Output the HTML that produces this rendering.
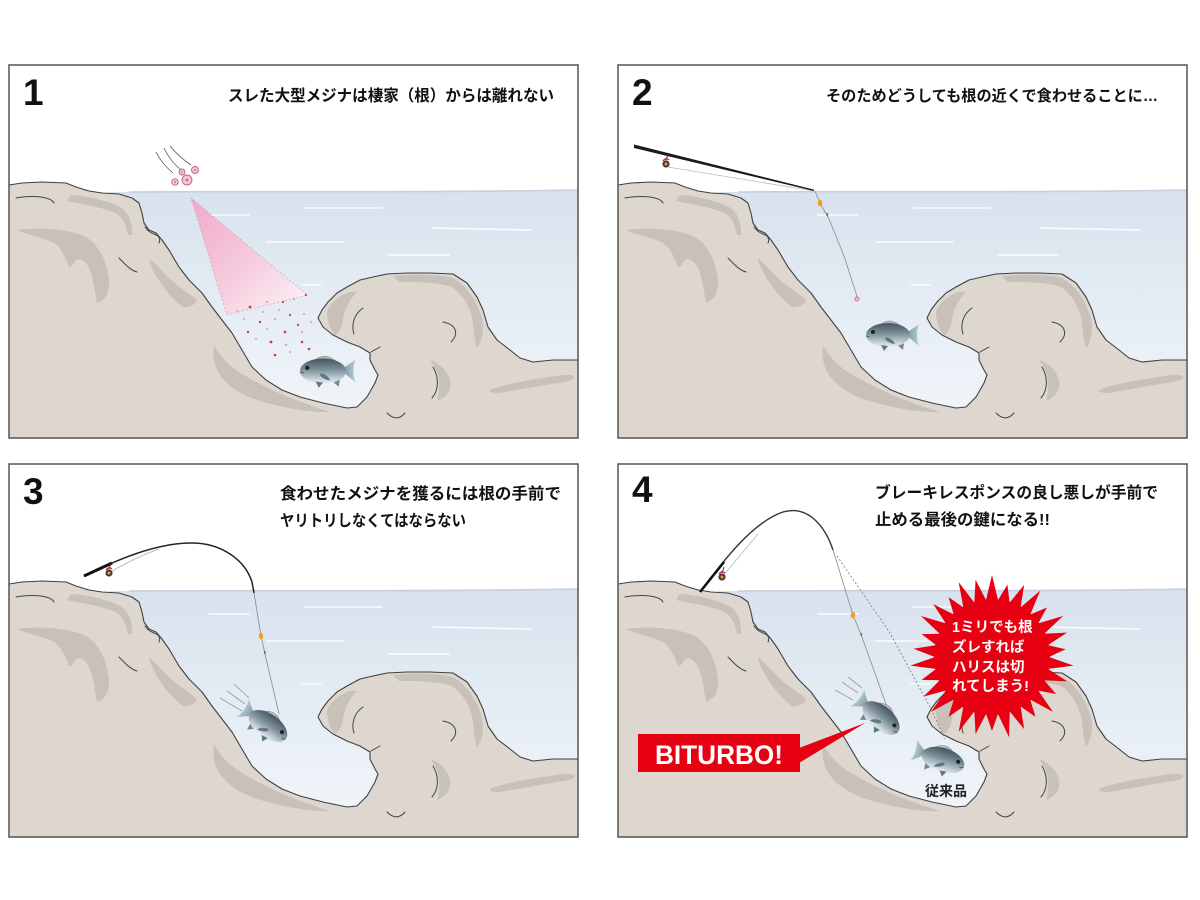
<!DOCTYPE html>
<html><head><meta charset="utf-8">
<style>
html,body{margin:0;padding:0;background:#fff;width:1200px;height:900px;overflow:hidden}
svg{display:block}
</style></head>
<body>
<svg width="1200" height="900" viewBox="0 0 1200 900" xmlns="http://www.w3.org/2000/svg">
<defs>
  <linearGradient id="waterG" x1="0" y1="125" x2="0" y2="373" gradientUnits="userSpaceOnUse">
    <stop offset="0" stop-color="#d8e2ed"/>
    <stop offset="1" stop-color="#f3f7fb"/>
  </linearGradient>
  <linearGradient id="fishG" x1="0" y1="-12" x2="0" y2="12" gradientUnits="userSpaceOnUse">
    <stop offset="0" stop-color="#46545d"/>
    <stop offset="0.45" stop-color="#7d919b"/>
    <stop offset="1" stop-color="#eef2f3"/>
  </linearGradient>
  <linearGradient id="finG" x1="17" y1="0" x2="31" y2="0" gradientUnits="userSpaceOnUse">
    <stop offset="0" stop-color="#6f8d99"/>
    <stop offset="1" stop-color="#b9ced5"/>
  </linearGradient>
  <linearGradient id="coneG" x1="182" y1="133" x2="290" y2="245" gradientUnits="userSpaceOnUse">
    <stop offset="0" stop-color="#f0a9c8"/>
    <stop offset="0.55" stop-color="#f5cbdd"/>
    <stop offset="1" stop-color="#fcf0f5"/>
  </linearGradient>
  <clipPath id="pc"><rect x="0" y="0" width="569" height="373"/></clipPath>

  <g id="land">
    <path d="M100,127 C250,126 400,128 569,125 L569,373 L100,373 Z" fill="url(#waterG)"/>
    <path d="M120,127 C250,126 400,128 569,125" fill="none" stroke="#c5d0dc" stroke-width="1.6"/>
    <g stroke="#ffffff" stroke-width="1.6" stroke-linecap="round" opacity="0.85">
      <path d="M295,143 L373,143"/>
      <path d="M423,163 L522,165"/>
      <path d="M258,177 L335,177"/>
      <path d="M200,150 L240,150"/>
      <path d="M293,220 L312,220"/>
      <path d="M380,190 L440,190"/>
    </g>
    <path fill="#ddd7d0" d="M0,120 L13,118 L33,117 L57,118 L67,122 L80,126 L93,128 L110,129 L123,133 L130,138 L133,148 L135,158 L140,165 L147,168 L153,175 L160,185 L170,202 L180,215 L193,228 L203,242 L213,255 L223,268 L233,285 L243,302 L257,315 L273,325 L291,332 L314,338 L338,343 L348,342 L358,332 L366,318 L369,310 L366,305 L361,295 L361,288 L351,282 L338,277 L324,270 L314,262 L309,253 L313,245 L319,237 L328,228 L338,222 L351,215 L364,212 L378,209 L398,208 L421,208 L444,209 L458,218 L468,232 L474,245 L479,262 L488,275 L501,285 L511,293 L524,297 L544,295 L569,295 L569,373 L0,373 Z"/>
    <g fill="#c8c1ba">
      <path d="M62,130 C80,131 100,136 113,143 C120,148 124,160 123,170 L119,170 C117,158 112,150 104,147 C88,141 72,139 58,136 Z"/>
      <path d="M8,165 C30,162 60,164 77,172 C90,180 98,196 100,215 C101,226 97,235 88,238 C86,228 85,214 80,203 C76,195 70,192 66,196 C64,200 62,203 60,202 C57,194 52,182 45,178 C33,172 18,170 8,165 Z"/>
      <path d="M140,193 C148,200 155,208 162,215 C170,222 180,228 188,235 C186,240 180,243 174,242 C165,236 156,225 149,214 C145,207 141,200 140,193 Z"/>
      <path d="M205,280 C210,290 220,302 235,310 C255,322 285,336 322,347 C300,348 270,342 245,334 C225,326 212,316 207,302 C204,294 204,287 205,280 Z"/>
      <path d="M384,211 C400,209 430,209 444,213 C456,220 466,232 472,250 C476,262 474,275 468,283 C465,275 465,262 463,252 C459,238 452,228 443,222 C428,217 405,217 390,217 Z"/>
      <path d="M318,247 C320,240 328,232 340,227 L348,227 C342,233 335,244 334,255 C333,262 330,268 326,270 C321,265 318,255 318,247 Z"/>
      <path d="M421,295 C430,298 438,305 441,315 C443,325 437,333 428,336 C430,328 431,318 429,310 C427,303 424,299 421,295 Z"/>
      <path d="M481,325 C495,319 520,315 540,312 C552,310 560,309 565,311 C566,314 563,316 555,317 C535,320 510,325 490,328 C484,328 480,327 481,325 Z"/>
    </g>
    <path fill="none" stroke="#404040" stroke-width="1.1" stroke-linejoin="round" d="M0,120 L13,118 L33,117 L57,118 L67,122 L80,126 L93,128 L110,129 L123,133 L130,138 L133,148 L135,158 L140,165 L147,168 L153,175 L160,185 L170,202 L180,215 L193,228 L203,242 L213,255 L223,268 L233,285 L243,302 L257,315 L273,325 L291,332 L314,338 L338,343 L348,342 L358,332 L366,318 L369,310 L366,305 L361,295 L361,288 L351,282 L338,277 L324,270 L314,262 L309,253 L313,245 L319,237 L328,228 L338,222 L351,215 L364,212 L378,209 L398,208 L421,208 L444,209 L458,218 L468,232 L474,245 L479,262 L488,275 L501,285 L511,293 L524,297 L544,295 L569,295"/>
    <g fill="none" stroke="#444" stroke-width="1" stroke-linecap="round">
      <path d="M7,133 C17,131 30,131 37,133 C41,134 44,136 45,138"/>
      <path d="M110,193 C116,199 121,205 128,207"/>
      <path d="M136,162 C140,168 144,168 149,171 C151,173 151,176 150,178"/>
      <path d="M354,243 C345,249 342,260 345,269"/>
      <path d="M434,257 C446,259 451,268 442,277"/>
      <path d="M424,302 C430,312 430,325 423,333"/>
      <path d="M378,348 C384,354 390,355 396,348"/>
      <path d="M362,287 L371,282"/>
    </g>
  </g>

  <g id="fish">
    <path d="M17,-1 L31,-11 Q27,0 31,11 Z" fill="url(#finG)"/>
    <path d="M-8,-10 Q2,-19 14,-8 Z" fill="#b5c0c5" stroke="#6a7a82" stroke-width="0.5"/>
    <path d="M8,9 L15,15 L16,8 Z" fill="#6f8a95"/>
    <ellipse cx="0" cy="0" rx="22" ry="12" fill="url(#fishG)"/>
    <path d="M-2,2 Q5,4 7,9 Q0,8 -3,4 Z" fill="#5a7a88"/>
    <path d="M-7,10 L-4,16 L0,11 Z" fill="#5a7a88"/>
    <circle cx="-15" cy="-3" r="2" fill="#1a2328"/>
    <path d="M-22,1 L-18,2" stroke="#333" stroke-width="0.6"/>
  </g>

  <g id="reel">
    <path d="M0,-4 L2,-10" stroke="#333" stroke-width="1"/>
    <circle r="3.6" fill="#4a3838"/>
    <path d="M-3,-3 Q0,-7 3,-4" stroke="#d02030" fill="none" stroke-width="1.3"/>
    <circle r="1.5" fill="#e0a030"/>
  </g>

  <polygon id="spA" points="-6.2,-56 0,-82 6.2,-56" fill="#e60012"/>
  <polygon id="spB" points="-6.2,-56 0,-74 6.2,-56" fill="#e60012"/>
  <polygon id="spC" points="-6.2,-56 0,-79 6.2,-56" fill="#e60012"/>
</defs>

<rect width="1200" height="900" fill="#fff"/>

<!-- PANEL 1 -->
<g transform="translate(9,65)">
  <g clip-path="url(#pc)">
    <rect width="569" height="373" fill="#fff"/>
    <use href="#land"/>
    <polygon points="182,133 298,230 218,250" fill="url(#coneG)" stroke="#d591b0" stroke-width="0.6" stroke-dasharray="2 2"/>
    <g fill="#c8404e">
      <circle cx="241" cy="242" r="1.4"/><circle cx="274" cy="237" r="1.1"/><circle cx="297" cy="230" r="1.1"/>
      <circle cx="251" cy="257" r="1.2"/><circle cx="281" cy="250" r="1.1"/><circle cx="239" cy="267" r="1.2"/>
      <circle cx="276" cy="267" r="1.4"/><circle cx="262" cy="277" r="1.4"/><circle cx="293" cy="277" r="1.3"/>
      <circle cx="266" cy="290" r="1.3"/><circle cx="300" cy="284" r="1.3"/><circle cx="289" cy="260" r="1.1"/>
    </g>
    <g fill="#d8aab8">
      <circle cx="258" cy="237" r="1.2"/><circle cx="285" cy="234" r="1.2"/><circle cx="235" cy="254" r="1.1"/>
      <circle cx="266" cy="254" r="1.2"/><circle cx="295" cy="249" r="1.2"/><circle cx="258" cy="264" r="1.1"/>
      <circle cx="293" cy="267" r="1.2"/><circle cx="277" cy="280" r="1.2"/><circle cx="281" cy="287" r="1.1"/>
      <circle cx="254" cy="247" r="1.1"/><circle cx="270" cy="245" r="1.1"/><circle cx="247" cy="274" r="1.1"/>
      <circle cx="302" cy="257" r="1.1"/><circle cx="228" cy="246" r="1"/>
    </g>
    <g fill="none" stroke="#555" stroke-width="0.8">
      <path d="M147,87 Q153,99 164,108"/>
      <path d="M155,83 Q161,96 172,105"/>
      <path d="M161,81 Q170,92 182,100"/>
    </g>
    <g fill="#f4c6d6" stroke="#c0607e" stroke-width="0.9">
      <circle cx="166" cy="117" r="3.2"/>
      <circle cx="178" cy="115" r="5"/>
      <circle cx="173" cy="107" r="3"/>
      <circle cx="186" cy="105" r="3.5"/>
    </g>
    <g fill="#cf6f90">
      <circle cx="166" cy="117" r="1"/><circle cx="178" cy="115" r="1.4"/><circle cx="173" cy="107" r="0.9"/><circle cx="186" cy="105" r="1"/>
    </g>
    <use href="#fish" transform="translate(314,306) scale(1.05)"/>
  </g>
  <rect x="0" y="0" width="569" height="373" fill="none" stroke="#555" stroke-width="1.5"/>
  <text x="14" y="40" font-family="'Liberation Sans','Noto Sans CJK JP',sans-serif" font-weight="bold" font-size="37" fill="#111">1</text>
  <text x="219" y="36" font-family="'Liberation Sans','Noto Sans CJK JP',sans-serif" font-weight="bold" font-size="16" fill="#111" textLength="326" lengthAdjust="spacingAndGlyphs">スレた大型メジナは棲家（根）からは離れない</text>
</g>

<!-- PANEL 2 -->
<g transform="translate(618,65)">
  <g clip-path="url(#pc)">
    <rect width="569" height="373" fill="#fff"/>
    <use href="#land"/>
    <path d="M50,102 L196,126" stroke="#bbb" stroke-width="0.8" fill="none"/>
    <path d="M16,79.5 L196,124.6 L196,126 L16,83 Z" fill="#1a1a1a"/>
    <use href="#reel" transform="translate(48,99)"/>
    <path d="M197,126 L202,138 L211,154 L226,191 L238,228 L239,232" stroke="#8a8a8a" stroke-width="0.8" fill="none"/>
    <ellipse cx="202" cy="138" rx="2.2" ry="3.4" fill="#f0a020"/>
    <rect x="208.5" y="148" width="1.6" height="3" fill="#6a7a40"/>
    <circle cx="239" cy="234" r="2" fill="#f3c0cc" stroke="#d04060" stroke-width="0.7"/>
    <use href="#fish" transform="translate(270,270)"/>
  </g>
  <rect x="0" y="0" width="569" height="373" fill="none" stroke="#555" stroke-width="1.5"/>
  <text x="14" y="40" font-family="'Liberation Sans','Noto Sans CJK JP',sans-serif" font-weight="bold" font-size="37" fill="#111">2</text>
  <text x="208" y="36" font-family="'Liberation Sans','Noto Sans CJK JP',sans-serif" font-weight="bold" font-size="15.5" fill="#111" textLength="332" lengthAdjust="spacingAndGlyphs">そのためどうしても根の近くで食わせることに…</text>
</g>

<!-- PANEL 3 -->
<g transform="translate(9,464)">
  <g clip-path="url(#pc)">
    <rect width="569" height="373" fill="#fff"/>
    <use href="#land"/>
    <path d="M100,109 C115,100 130,92 150,85" stroke="#aaa" stroke-width="0.7" fill="none"/>
    <path d="M75,112 C110,95 145,80 180,79 C212,78 236,96 243,118 L245,129" stroke="#222" stroke-width="1.5" fill="none"/>
    <path d="M75,112 L103,99" stroke="#111" stroke-width="3" fill="none"/>
    <use href="#reel" transform="translate(100,109)"/>
    <path d="M245,129 L252,172 L256,190 L270,250" stroke="#8a8a8a" stroke-width="0.8" fill="none"/>
    <ellipse cx="252" cy="172" rx="2.2" ry="3.4" fill="#f0a020"/>
    <rect x="255" y="187" width="1.6" height="3" fill="#6a7a40"/>
    <g stroke="#999" stroke-width="0.8">
      <path d="M211,234 L233,247"/><path d="M218,227 L236,240"/><path d="M225,220 L240,234"/>
    </g>
    <use href="#fish" transform="translate(259,262) rotate(35) scale(-1,1)"/>
  </g>
  <rect x="0" y="0" width="569" height="373" fill="none" stroke="#555" stroke-width="1.5"/>
  <text x="14" y="40" font-family="'Liberation Sans','Noto Sans CJK JP',sans-serif" font-weight="bold" font-size="37" fill="#111">3</text>
  <text x="271" y="35" font-family="'Liberation Sans','Noto Sans CJK JP',sans-serif" font-weight="bold" font-size="16" fill="#111" textLength="281" lengthAdjust="spacingAndGlyphs">食わせたメジナを獲るには根の手前で</text>
  <text x="271" y="62" font-family="'Liberation Sans','Noto Sans CJK JP',sans-serif" font-weight="bold" font-size="16" fill="#111" textLength="186" lengthAdjust="spacingAndGlyphs">ヤリトリしなくてはならない</text>
</g>

<!-- PANEL 4 -->
<g transform="translate(618,464)">
  <g clip-path="url(#pc)">
    <rect width="569" height="373" fill="#fff"/>
    <use href="#land"/>
    <path d="M104,113 C115,100 125,88 140,70" stroke="#aaa" stroke-width="0.7" fill="none"/>
    <path d="M82,128 C105,97 135,58 165,48 C190,41 207,62 215,86" stroke="#333" stroke-width="1.4" fill="none"/>
    <path d="M82,128 L106,98" stroke="#111" stroke-width="2.6" fill="none"/>
    <use href="#reel" transform="translate(104,113)"/>
    <path d="M215,86 L235,151 L244,173 L269,243" stroke="#8a8a8a" stroke-width="0.8" fill="none"/>
    <path d="M219,92 L272,169 L312,243 L327,275" stroke="#777" stroke-width="0.8" stroke-dasharray="2 2" fill="none"/>
    <ellipse cx="235" cy="151" rx="2.2" ry="3.4" fill="#f0a020"/>
    <rect x="242.5" y="169" width="1.6" height="3" fill="#6a7a40"/>
    <!-- starburst -->
    <g transform="translate(374,193)">
      <circle r="58" fill="#e60012"/>
      <use href="#spA" transform="rotate(0)"/><use href="#spB" transform="rotate(12)"/><use href="#spC" transform="rotate(24)"/>
      <use href="#spA" transform="rotate(36)"/><use href="#spB" transform="rotate(48)"/><use href="#spA" transform="rotate(60)"/>
      <use href="#spC" transform="rotate(72)"/><use href="#spB" transform="rotate(84)"/><use href="#spA" transform="rotate(96)"/>
      <use href="#spC" transform="rotate(108)"/><use href="#spB" transform="rotate(120)"/><use href="#spA" transform="rotate(132)"/>
      <use href="#spB" transform="rotate(144)"/><use href="#spC" transform="rotate(156)"/><use href="#spA" transform="rotate(168)"/>
      <use href="#spB" transform="rotate(180)"/><use href="#spC" transform="rotate(192)"/><use href="#spA" transform="rotate(204)"/>
      <use href="#spB" transform="rotate(216)"/><use href="#spA" transform="rotate(228)"/><use href="#spC" transform="rotate(240)"/>
      <use href="#spB" transform="rotate(252)"/><use href="#spA" transform="rotate(264)"/><use href="#spC" transform="rotate(276)"/>
      <use href="#spB" transform="rotate(288)"/><use href="#spA" transform="rotate(300)"/><use href="#spC" transform="rotate(312)"/>
      <use href="#spB" transform="rotate(324)"/><use href="#spA" transform="rotate(336)"/><use href="#spC" transform="rotate(348)"/>
    </g>
    <g font-family="'Liberation Sans','Noto Sans CJK JP',sans-serif" font-weight="bold" font-size="14.5" fill="#fff">
      <text x="334" y="168">1ミリでも根</text>
      <text x="334" y="188">ズレすれば</text>
      <text x="334" y="208">ハリスは切</text>
      <text x="334" y="227">れてしまう!</text>
    </g>
    <!-- BITURBO label -->
    <rect x="20" y="270" width="162" height="38" fill="#e60012"/>
    <polygon points="181,284 247,259 181,299" fill="#e60012"/>
    <text x="37" y="300" font-family="'Liberation Sans',sans-serif" font-weight="bold" font-size="27" fill="#fff" textLength="128" lengthAdjust="spacingAndGlyphs">BITURBO!</text>
    <g stroke="#999" stroke-width="0.8">
      <path d="M217,226 L235,236"/><path d="M224,218 L240,229"/><path d="M230,213 L244,224"/>
    </g>
    <use href="#fish" transform="translate(263,254) rotate(40) scale(-1,1)"/>
    <use href="#fish" transform="translate(325,296) rotate(18) scale(-1,1)"/>
    <text x="307" y="332" font-family="'Liberation Sans','Noto Sans CJK JP',sans-serif" font-weight="bold" font-size="14" fill="#222">従来品</text>
  </g>
  <rect x="0" y="0" width="569" height="373" fill="none" stroke="#555" stroke-width="1.5"/>
  <text x="14" y="38" font-family="'Liberation Sans','Noto Sans CJK JP',sans-serif" font-weight="bold" font-size="37" fill="#111">4</text>
  <text x="257" y="34" font-family="'Liberation Sans','Noto Sans CJK JP',sans-serif" font-weight="bold" font-size="16" fill="#111" textLength="283" lengthAdjust="spacingAndGlyphs">ブレーキレスポンスの良し悪しが手前で</text>
  <text x="257" y="61" font-family="'Liberation Sans','Noto Sans CJK JP',sans-serif" font-weight="bold" font-size="16" fill="#111" textLength="175" lengthAdjust="spacingAndGlyphs">止める最後の鍵になる!!</text>
</g>
</svg>
</body></html>
